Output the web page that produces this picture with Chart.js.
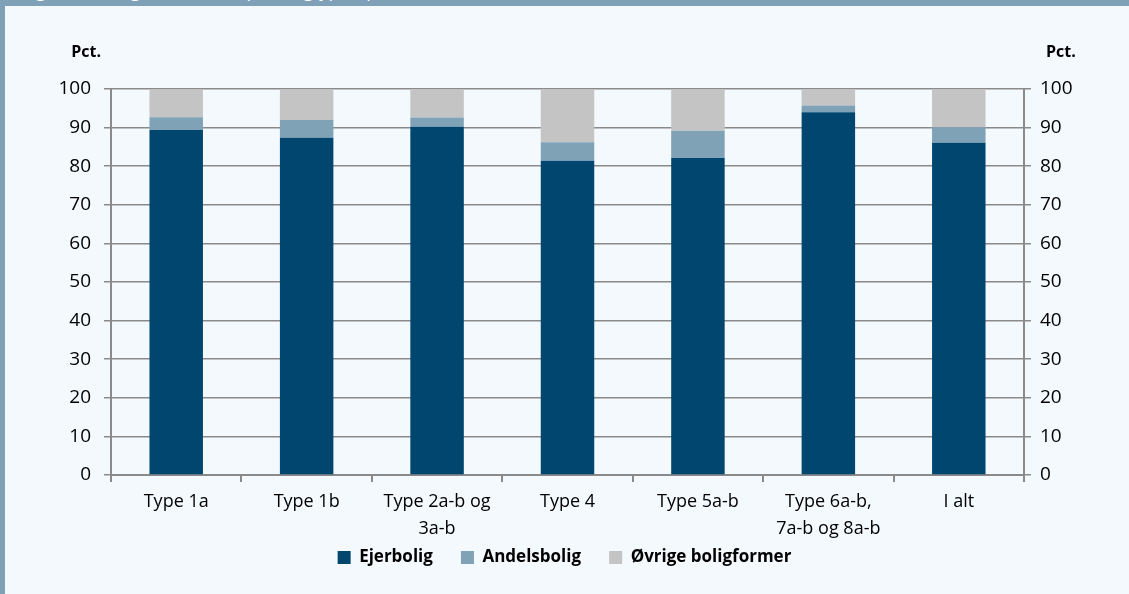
<!DOCTYPE html>
<html>
<head>
<meta charset="utf-8">
<script src="https://cdn.jsdelivr.net/npm/chart.js@4.4.1/dist/chart.umd.min.js"></script>
<style>
  html, body { margin: 0; padding: 0; }
  body { width: 1129px; height: 594px; background: #f4f9fd; position: relative; overflow: hidden; font-family: "Open Sans", sans-serif; }
  #hdr { position: absolute; left: 0; top: 0; width: 1129px; height: 6px; background: #7fa1b8; overflow: hidden; }
  #hdr span { position: absolute; left: 22px; top: -22px; color: #fff; font-size: 18px; line-height: 24px; white-space: nowrap; }
  #lb { position: absolute; left: 0; top: 0; width: 5px; height: 594px; background: #7fa1b8; }
  #wrap { position: absolute; left: 0; top: 0; width: 1129px; height: 594px; }
</style>
</head>
<body>
<div id="wrap"><canvas id="c" width="1129" height="594"></canvas></div>
<div id="hdr"><span>Figur 3.5 Boligform fordelt på boligtyper, pct.</span></div>
<div id="lb"></div>
<script>
const categories = [["Type 1a"], ["Type 1b"], ["Type 2a-b og", "3a-b"], ["Type 4"], ["Type 5a-b"], ["Type 6a-b,", "7a-b og 8a-b"], ["I alt"]];
const ejerbolig = [89.4, 87.4, 90.2, 81.4, 82.1, 94.0, 86.1];
const andelsbolig = [3.3, 4.6, 2.4, 4.8, 7.1, 1.7, 4.0];
const oevrige = [7.3, 8.0, 7.4, 13.8, 10.8, 4.3, 9.9];
const seriesNames = ["Ejerbolig", "Andelsbolig", "Øvrige boligformer"];
const axisUnit = "Pct.";

const FONT = "'Open Sans', sans-serif";
const gridColor = "#8a8a8a";

const unitPlugin = {
  id: "unitLabels",
  afterDraw(chart) {
    const ctx = chart.ctx;
    ctx.save();
    ctx.font = "bold 16px " + FONT;
    ctx.fillStyle = "#000";
    ctx.textBaseline = "middle";
    ctx.textAlign = "right";
    ctx.fillText(axisUnit, 101, 52);
    ctx.textAlign = "left";
    ctx.fillText(axisUnit, 1046, 52);
    ctx.restore();
  }
};

new Chart(document.getElementById("c"), {
  type: "bar",
  data: {
    labels: categories,
    datasets: [
      { label: seriesNames[0], data: ejerbolig, backgroundColor: "#00466e" },
      { label: seriesNames[1], data: andelsbolig, backgroundColor: "#7fa2b7" },
      { label: seriesNames[2], data: oevrige, backgroundColor: "#c4c4c4" }
    ]
  },
  options: {
    responsive: false,
    animation: false,
    devicePixelRatio: 1,
    layout: { padding: { left: 20, right: 20, top: 89, bottom: 18 } },
    datasets: { bar: { categoryPercentage: 1, barPercentage: 0.41, borderWidth: 0 } },
    plugins: {
      legend: {
        position: "bottom",
        labels: {
          boxWidth: 13, boxHeight: 13, color: "#000",
          font: { family: FONT, size: 17, weight: "bold" },
          padding: 6,
          generateLabels(chart) {
            const items = Chart.defaults.plugins.legend.labels.generateLabels(chart);
            items.forEach((it, i) => { if (i < items.length - 1) it.text = it.text + "\u00a0\u00a0\u00a0\u00a0\u00a0"; });
            return items;
          }
        }
      },
      tooltip: { enabled: false }
    },
    scales: {
      x: {
        stacked: true,
        offset: true,
        grid: { offset: true, drawOnChartArea: false, drawTicks: true, tickLength: 7, color: gridColor, lineWidth: 2 },
        border: { color: gridColor, width: 2 },
        ticks: { color: "#000", font: { family: FONT, size: 18, lineHeight: 1.48 }, padding: 7, maxRotation: 0, autoSkip: false },
        afterFit(s) { s.height = 68; }
      },
      y: {
        stacked: true,
        min: 0, max: 100,
        ticks: { stepSize: 10, color: "#000", font: { family: FONT, size: 19 }, padding: 13 },
        grid: { color: gridColor, lineWidth: 1.5, tickLength: 7 },
        border: { color: gridColor, width: 2 },
        afterFit(s) { s.width = 91; }
      },
      y2: {
        position: "right",
        min: 0, max: 100,
        ticks: { stepSize: 10, color: "#000", font: { family: FONT, size: 19 }, padding: 9 },
        grid: { drawOnChartArea: false, color: gridColor, lineWidth: 1.5, tickLength: 7 },
        border: { color: gridColor, width: 2 },
        afterFit(s) { s.width = 85; }
      }
    }
  },
  plugins: [unitPlugin]
});
</script>
</body>
</html>
